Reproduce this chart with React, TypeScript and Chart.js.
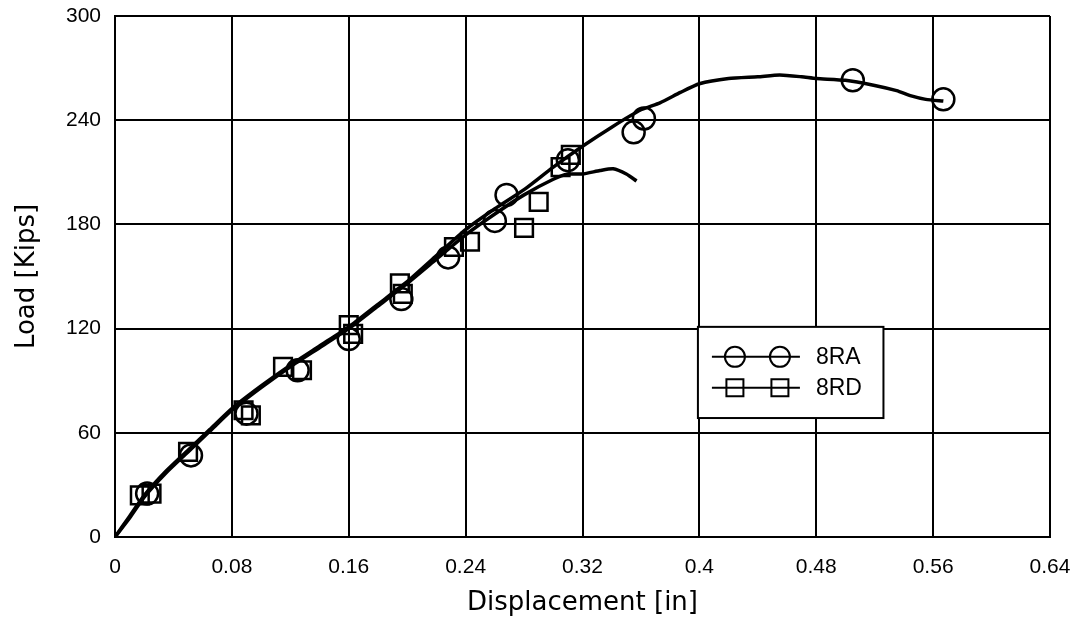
import React, { useEffect, useRef } from "react";
import { Chart, registerables } from "chart.js";

Chart.register(...registerables);

// ---- data ----
const braLineX = [0, 0.01, 0.02, 0.035, 0.05, 0.065, 0.08, 0.1, 0.12, 0.14, 0.16, 0.18, 0.2, 0.22, 0.24, 0.26, 0.28, 0.3, 0.32, 0.34, 0.36, 0.373, 0.387, 0.4, 0.42, 0.44, 0.455, 0.47, 0.48, 0.5, 0.52, 0.535, 0.545, 0.555, 0.567];
const braLineY = [0, 12, 24, 38, 50, 62, 74, 87, 99, 110, 121, 134, 147, 162, 177, 189, 200, 213, 225, 236, 246, 250, 256, 261, 264, 265, 266, 265, 264, 263, 260, 257, 254, 252, 251];

const brdLineX = [0, 0.01, 0.02, 0.035, 0.05, 0.065, 0.08, 0.1, 0.12, 0.14, 0.16, 0.18, 0.2, 0.22, 0.24, 0.26, 0.28, 0.3, 0.31, 0.32, 0.332, 0.341, 0.35, 0.357];
const brdLineY = [0, 11, 23, 37, 49, 61, 73, 86, 98, 109, 120, 133, 146, 160, 174, 186, 197, 206, 209, 209, 211, 212, 209, 205];

const braMarkX = [0.022, 0.052, 0.09, 0.125, 0.16, 0.196, 0.228, 0.26, 0.268, 0.31, 0.355, 0.362, 0.505, 0.567];
const braMarkY = [25, 47, 71, 96, 114, 137, 161, 182, 197, 217, 233, 241, 263, 252];

const brdMarkX = [0.017, 0.025, 0.05, 0.088, 0.093, 0.115, 0.128, 0.16, 0.163, 0.195, 0.197, 0.232, 0.243, 0.28, 0.29, 0.305, 0.312];
const brdMarkY = [24, 25, 49, 73, 70, 98, 96, 122, 117, 146, 140, 167, 170, 178, 193, 213, 220];

const xTickLabels = ["0", "0.08", "0.16", "0.24", "0.32", "0.4", "0.48", "0.56", "0.64"];
const yTickLabels = ["0", "60", "120", "180", "240", "300"];
const seriesNames = ["8RA", "8RD"];

const FONT = "'DejaVu Sans', sans-serif";
const TICK_FONT = "'Liberation Sans', Arial, sans-serif";

const zip = (xs: number[], ys: number[]) => xs.map((x, i) => ({ x, y: ys[i] }));

const legendPlugin = {
  id: "boxLegend",
  afterDatasetsDraw(chart: any) {
    const { ctx } = chart;
    const xs = chart.scales.x;
    const ys = chart.scales.y;
    const left = xs.getPixelForValue(0.399);
    const right = xs.getPixelForValue(0.526);
    const top = ys.getPixelForValue(121);
    const bottom = ys.getPixelForValue(68.5);
    ctx.save();
    ctx.fillStyle = "#fff";
    ctx.fillRect(left, top, right - left, bottom - top);
    ctx.strokeStyle = "#000";
    ctx.lineWidth = 2;
    ctx.strokeRect(left, top, right - left, bottom - top);
    const rows = [top + 30, top + 61];
    const lx0 = left + 14;
    const lx1 = left + 102;
    const m1 = left + 37;
    const m2 = left + 82;
    rows.forEach((ry, i) => {
      ctx.beginPath();
      ctx.moveTo(lx0, ry);
      ctx.lineTo(lx1, ry);
      ctx.lineWidth = 2;
      ctx.stroke();
      [m1, m2].forEach((mx) => {
        ctx.beginPath();
        if (i === 0) {
          ctx.arc(mx, ry, 10, 0, Math.PI * 2);
        } else {
          ctx.rect(mx - 8.5, ry - 8.5, 17, 17);
        }
        ctx.stroke();
      });
      ctx.fillStyle = "#000";
      ctx.font = `23px ${TICK_FONT}`;
      ctx.textBaseline = "middle";
      ctx.textAlign = "left";
      ctx.fillText(seriesNames[i], left + 118, ry + 1);
    });
    ctx.restore();
  },
};

export default function App() {
  const ref = useRef<HTMLCanvasElement | null>(null);
  useEffect(() => {
    document.body.style.margin = "0";
    const canvas = ref.current;
    if (!canvas) return;
    const chart = new Chart(canvas, {
      type: "scatter",
      data: {
        datasets: [
          {
            label: seriesNames[0],
            data: zip(braLineX, braLineY),
            showLine: true,
            borderColor: "#000",
            borderWidth: 3.5,
            pointRadius: 0,
            tension: 0.2,
          },
          {
            label: seriesNames[1],
            data: zip(brdLineX, brdLineY),
            showLine: true,
            borderColor: "#000",
            borderWidth: 3.5,
            pointRadius: 0,
            tension: 0.2,
          },
          {
            label: seriesNames[0] + " markers",
            data: zip(braMarkX, braMarkY),
            showLine: false,
            pointStyle: "circle",
            pointRadius: 11,
            pointBorderWidth: 2.5,
            pointBorderColor: "#000",
            pointBackgroundColor: "rgba(0,0,0,0)",
          },
          {
            label: seriesNames[1] + " markers",
            data: zip(brdMarkX, brdMarkY),
            showLine: false,
            pointStyle: "rect",
            pointRadius: 12.5,
            pointBorderWidth: 2.5,
            pointBorderColor: "#000",
            pointBackgroundColor: "rgba(0,0,0,0)",
          },
        ],
      },
      options: {
        animation: false,
        responsive: false,
        devicePixelRatio: 1,
        layout: { padding: { top: 16, right: 35, left: 0, bottom: 0 } },
        plugins: {
          legend: { display: false },
          tooltip: { enabled: false },
        },
        scales: {
          x: {
            type: "linear",
            min: 0,
            max: 0.64,
            afterFit: (s: any) => {
              s.height = 85;
              s.paddingLeft = 0;
              s.paddingRight = 0;
            },
            ticks: {
              stepSize: 0.08,
              color: "#000",
              font: { family: TICK_FONT, size: 21 },
              padding: 18,
              maxRotation: 0,
              callback: (_v: any, i: number) => xTickLabels[i],
            },
            grid: { color: "#000", lineWidth: 2, drawTicks: false },
            border: { color: "#000", width: 2 },
            title: {
              display: true,
              text: "Displacement [in]",
              color: "#000",
              font: { family: FONT, size: 26 },
              padding: { top: 0, bottom: 3 },
            },
          },
          y: {
            type: "linear",
            min: 0,
            max: 300,
            afterFit: (s: any) => {
              s.width = 115;
              s.paddingTop = 0;
              s.paddingBottom = 0;
            },
            ticks: {
              stepSize: 60,
              color: "#000",
              font: { family: TICK_FONT, size: 21 },
              padding: 14,
              callback: (_v: any, i: number) => yTickLabels[i],
            },
            grid: { color: "#000", lineWidth: 2, drawTicks: false },
            border: { color: "#000", width: 2 },
            title: {
              display: true,
              text: "Load [Kips]",
              color: "#000",
              font: { family: FONT, size: 26 },
              padding: { top: 12, bottom: 0 },
            },
          },
        },
      },
      plugins: [legendPlugin],
    });
    return () => chart.destroy();
  }, []);
  return (
    <div style={{ width: 1085, height: 622, background: "#fff" }}>
      <canvas ref={ref} width={1085} height={622} style={{ display: "block" }} />
    </div>
  );
}
